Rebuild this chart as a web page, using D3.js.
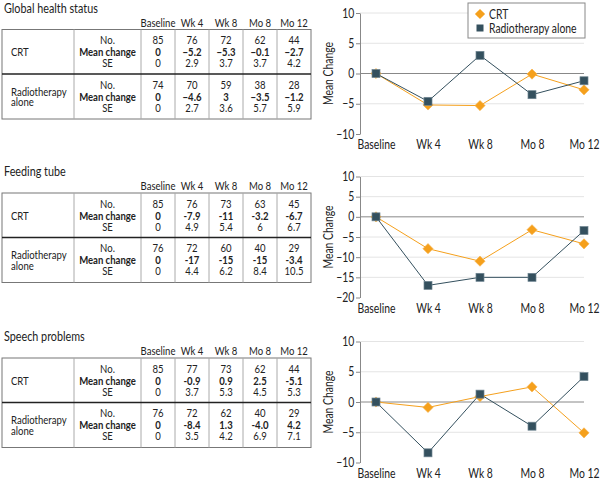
<!DOCTYPE html>
<html><head><meta charset="utf-8">
<script src="https://cdn.jsdelivr.net/npm/d3@7"></script>
<style>
body{margin:0;background:#fff}
text{font-family:Lato,"Open Sans",Arial,sans-serif;fill:#222}
</style></head>
<body>
<svg id="chart" width="600" height="479"></svg>
<script>
const timepoints = ["Baseline","Wk 4","Wk 8","Mo 8","Mo 12"];
const panelTitles = ["Global health status","Feeding tube","Speech problems"];
const groups = ["CRT","Radiotherapy alone"];
const rowLabels = ["No.","Mean change","SE"];

const crtN = [[85,76,72,62,44],[85,76,73,63,45],[85,77,73,62,44]];
const crtMean = [["0","−5.2","−5.3","−0.1","−2.7"],["0","-7.9","-11","-3.2","-6.7"],["0","-0.9","0.9","2.5","-5.1"]];
const crtSE = [["0","2.9","3.7","3.7","4.2"],["0","4.9","5.4","6","6.7"],["0","3.7","5.3","4.5","5.3"]];

const rtN = [[74,70,59,38,28],[76,72,60,40,29],[76,72,62,40,29]];
const rtMean = [["0","−4.6","3","−3.5","−1.2"],["0","-17","-15","-15","-3.4"],["0","-8.4","1.3","-4.0","4.2"]];
const rtSE = [["0","2.7","3.6","5.7","5.9"],["0","4.4","6.2","8.4","10.5"],["0","3.5","4.2","6.9","7.1"]];

const yDomains = [[-10,10],[-20,10],[-10,10]];
const yTicks = [[-10,-5,0,5,10],[-20,-15,-10,-5,0,5,10],[-10,-5,0,5,10]];

const orange = "#f5a01c", slate = "#34505e";
const num = s => +String(s).replace(/[−-]/g, "-");
const SX = 0.83;

const svg = d3.select("#chart");
const offsets = [0, 163.5, 328.5];
const FS = 11.5;

function txt(g, x, y, s, o = {}) {
  return g.append("text")
    .attr("transform", `translate(${x},${y}) scale(${SX},1)`)
    .attr("text-anchor", o.anchor || "start")
    .attr("font-size", o.size || FS)
    .attr("font-weight", o.bold ? "bold" : "normal")
    .text(s);
}

const colX = [2, 74, 141, 175, 209, 243, 277, 311];

offsets.forEach((off, p) => {
  const g = svg.append("g");
  const top = 29.5 + off;
  txt(g, 4, top - 17, panelTitles[p], {size: 13});
  timepoints.forEach((t, i) => {
    txt(g, (colX[i+2] + colX[i+3]) / 2, top - 3, t, {anchor: "middle"});
  });
  const bottom = top + 89.5, mid = top + 44.5;
  g.append("rect").attr("x", colX[0]).attr("y", top).attr("width", colX[7] - colX[0]).attr("height", bottom - top)
    .attr("fill", "none").attr("stroke", "#777").attr("stroke-width", 1);
  colX.slice(1, 7).forEach(x => {
    g.append("line").attr("x1", x).attr("x2", x).attr("y1", top).attr("y2", bottom)
      .attr("stroke", "#aaa").attr("stroke-width", 1);
  });
  g.append("line").attr("x1", colX[0]).attr("x2", colX[7]).attr("y1", mid).attr("y2", mid)
    .attr("stroke", "#222").attr("stroke-width", 1.5);

  const blocks = [
    {y0: top, rows: [crtN[p], crtMean[p], crtSE[p]], label: ["CRT"]},
    {y0: mid, rows: [rtN[p], rtMean[p], rtSE[p]], label: ["Radiotherapy", "alone"]}
  ];
  const rowOff = [14.5, 26.5, 37.5];
  blocks.forEach(b => {
    if (b.label.length === 1) {
      txt(g, 11, b.y0 + 26.5, b.label[0]);
    } else {
      txt(g, 11, b.y0 + 21.5, b.label[0]);
      txt(g, 11, b.y0 + 32, b.label[1]);
    }
    rowLabels.forEach((r, ri) => {
      txt(g, (colX[1] + colX[2]) / 2, b.y0 + rowOff[ri], r, {anchor: "middle", bold: ri === 1});
      b.rows[ri].forEach((v, ci) => {
        txt(g, (colX[ci+2] + colX[ci+3]) / 2, b.y0 + rowOff[ri], v, {anchor: "middle", bold: ri === 1});
      });
    });
  });

  const ctop = 13 + off, cbot = ctop + 121;
  const x = d3.scalePoint().domain(timepoints).range([376, 584]);
  const y = d3.scaleLinear().domain(yDomains[p]).range([cbot, ctop]);
  const cg = svg.append("g");
  yTicks[p].forEach(t => {
    if (t === yDomains[p][0]) return;
    cg.append("line").attr("x1", 360).attr("x2", 584).attr("y1", y(t)).attr("y2", y(t))
      .attr("stroke", t === 0 ? "#888" : "#e4e4e4").attr("stroke-width", 1);
  });
  const yAxis = cg.append("g").attr("transform", "translate(360,0)")
    .call(d3.axisLeft(y).tickValues(yTicks[p]).tickSize(4).tickPadding(3).tickSizeOuter(0));
  yAxis.select(".domain").attr("stroke", "#888");
  yAxis.selectAll(".tick line").attr("stroke", "#888");
  yAxis.selectAll(".tick text").attr("font-size", 12.5).attr("fill", "#222").attr("font-family", null)
    .attr("transform", `scale(${SX},1)`);
  const xAxis = cg.append("g").attr("transform", `translate(0,${cbot})`)
    .call(d3.axisBottom(x).tickSize(0).tickPadding(6.5));
  xAxis.select(".domain").remove();
  xAxis.selectAll(".tick text").attr("font-size", 12.5).attr("fill", "#222").attr("font-family", null)
    .attr("transform", `scale(${SX},1)`);

  cg.append("text").attr("transform", `translate(333,${(ctop + cbot) / 2}) rotate(-90) scale(${SX},1)`)
    .attr("text-anchor", "middle").attr("font-size", 12.5).text("Mean Change");

  const crtData = timepoints.map((t, i) => ({t, v: num(crtMean[p][i])}));
  const rtData = timepoints.map((t, i) => ({t, v: num(rtMean[p][i])}));
  const line = d3.line().x(d => x(d.t)).y(d => y(d.v));
  cg.append("path").datum(crtData).attr("d", line).attr("fill", "none").attr("stroke", orange).attr("stroke-width", 1);
  cg.append("path").datum(rtData).attr("d", line).attr("fill", "none").attr("stroke", slate).attr("stroke-width", 1);
  cg.selectAll(".crt").data(crtData).enter().append("rect")
    .attr("x", -3.6).attr("y", -3.6).attr("width", 7.2).attr("height", 7.2)
    .attr("transform", d => `translate(${x(d.t)},${y(d.v)}) rotate(45)`)
    .attr("fill", orange).attr("stroke", "#f7b34d").attr("stroke-width", 0.6);
  cg.selectAll(".rt").data(rtData).enter().append("rect")
    .attr("x", d => x(d.t) - 4).attr("y", d => y(d.v) - 4).attr("width", 8).attr("height", 8)
    .attr("fill", slate).attr("stroke", "#6f8591").attr("stroke-width", 0.7);
});

const lg = svg.append("g");
lg.append("rect").attr("x", 468).attr("y", 3).attr("width", 117).attr("height", 35)
  .attr("fill", "#fff").attr("stroke", "#888");
lg.append("rect").attr("x", -3.6).attr("y", -3.6).attr("width", 7.2).attr("height", 7.2)
  .attr("transform", "translate(480,14) rotate(45)").attr("fill", orange);
txt(lg, 489, 18.5, groups[0], {size: 12.5});
lg.append("rect").attr("x", 476.5).attr("y", 24.5).attr("width", 7).attr("height", 7).attr("fill", slate);
txt(lg, 489, 32.5, groups[1], {size: 12.5});
</script>
</body></html>
